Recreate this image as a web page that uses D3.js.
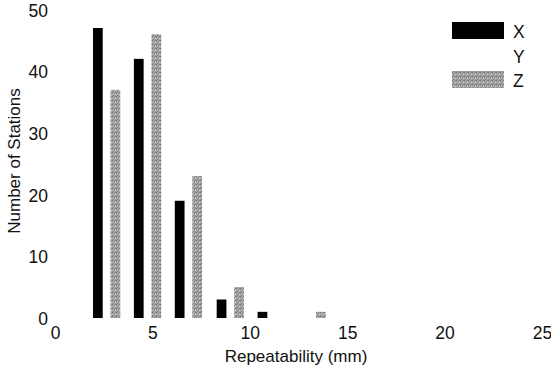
<!DOCTYPE html>
<html>
<head>
<meta charset="utf-8">
<script src="https://cdn.jsdelivr.net/npm/d3@7"></script>
<style>
  body { margin: 0; background: #fff; }
  svg text { font-family: "Liberation Sans", Arial, sans-serif; fill: #111; }
</style>
</head>
<body>
<div id="chart"></div>
<script>
"use strict";

/* Histogram data: bin centers (mm) and counts per component */
const binCenters = [2.65, 4.75, 6.85, 9.0, 11.1, 13.2];
const countsX = [47, 42, 19, 3, 1, 0];
const countsY = [0, 0, 0, 0, 0, 0];
const countsZ = [37, 46, 23, 5, 0, 1];
const seriesNames = ["X", "Y", "Z"];
const xTicks = [0, 5, 10, 15, 20, 25];
const yTicks = [0, 10, 20, 30, 40, 50];

const width = 551, height = 372;

const svg = d3.select("#chart")
  .append("svg")
  .attr("width", width)
  .attr("height", height);

// grainy gray fill for the Z bars
const defs = svg.append("defs");
const pat = defs.append("pattern")
  .attr("id", "grain")
  .attr("patternUnits", "userSpaceOnUse")
  .attr("width", 4)
  .attr("height", 4);
pat.append("rect").attr("width", 4).attr("height", 4).attr("fill", "#a4a4a4");
// a few darker / lighter specks
[[0, 0, "#6a6a6a"], [2, 1, "#787878"], [1, 3, "#808080"], [3, 2, "#cfcfcf"], [1, 1, "#c4c4c4"], [3, 0, "#8c8c8c"]]
  .forEach(s => pat.append("rect")
    .attr("x", s[0]).attr("y", s[1])
    .attr("width", 1).attr("height", 1)
    .attr("fill", s[2]));

const x = d3.scaleLinear().domain([0, 25]).range([55, 542]);
const y = d3.scaleLinear().domain([0, 50]).range([318, 9.5]);

const barW = 0.5;      // bar width in mm
const offset = 0.45;   // X left of bin center, Z right

const fills = { X: "#000", Y: "none", Z: "url(#grain)" };
const offsets = { X: -offset, Y: 0, Z: offset };
const counts = { X: countsX, Y: countsY, Z: countsZ };

const bars = svg.append("g");
for (const name of seriesNames) {
  bars.selectAll(".bar-" + name)
    .data(binCenters.map((c, i) => ({ c: c, v: counts[name][i] })).filter(d => d.v > 0))
    .enter()
    .append("rect")
    .attr("class", "bar-" + name)
    .attr("x", d => x(d.c + offsets[name] - barW / 2))
    .attr("width", d => x(barW) - x(0))
    .attr("y", d => y(d.v))
    .attr("height", d => y(0) - y(d.v))
    .attr("fill", fills[name]);
}

/* Axes: labels only, no lines */
const xAxis = svg.append("g")
  .attr("transform", `translate(0, 327)`)
  .call(d3.axisBottom(x).tickValues(xTicks).tickSize(0).tickPadding(0));
xAxis.select(".domain").remove();
xAxis.selectAll("text")
  .attr("dy", "0.71em")
  .style("font-size", "17.5px")
  .style("fill", "#111");

const yAxis = svg.append("g")
  .attr("transform", `translate(48, 1)`)
  .call(d3.axisLeft(y).tickValues(yTicks).tickSize(0).tickPadding(0));
yAxis.select(".domain").remove();
yAxis.selectAll("text")
  .style("font-size", "17.5px")
  .style("fill", "#111");

svg.append("text")
  .attr("x", 296)
  .attr("y", 362)
  .attr("text-anchor", "middle")
  .style("font-size", "17px")
  .text("Repeatability (mm)");

svg.append("text")
  .attr("transform", "translate(20, 161) rotate(-90)")
  .attr("text-anchor", "middle")
  .style("font-size", "17px")
  .text("Number of Stations");

/* Legend */
const legend = svg.append("g");
const legendY = d3.scalePoint().domain(seriesNames).range([31, 80]);
legend.selectAll("rect")
  .data(seriesNames.filter(n => fills[n] !== "none"))
  .enter()
  .append("rect")
  .attr("x", 452)
  .attr("y", d => legendY(d) - 9)
  .attr("width", 52)
  .attr("height", 17)
  .attr("fill", d => fills[d]);
legend.selectAll("text")
  .data(seriesNames)
  .enter()
  .append("text")
  .attr("x", 513)
  .attr("y", d => legendY(d) + 1)
  .attr("dy", "0.35em")
  .style("font-size", "17.5px")
  .text(d => d);
</script>
</body>
</html>
